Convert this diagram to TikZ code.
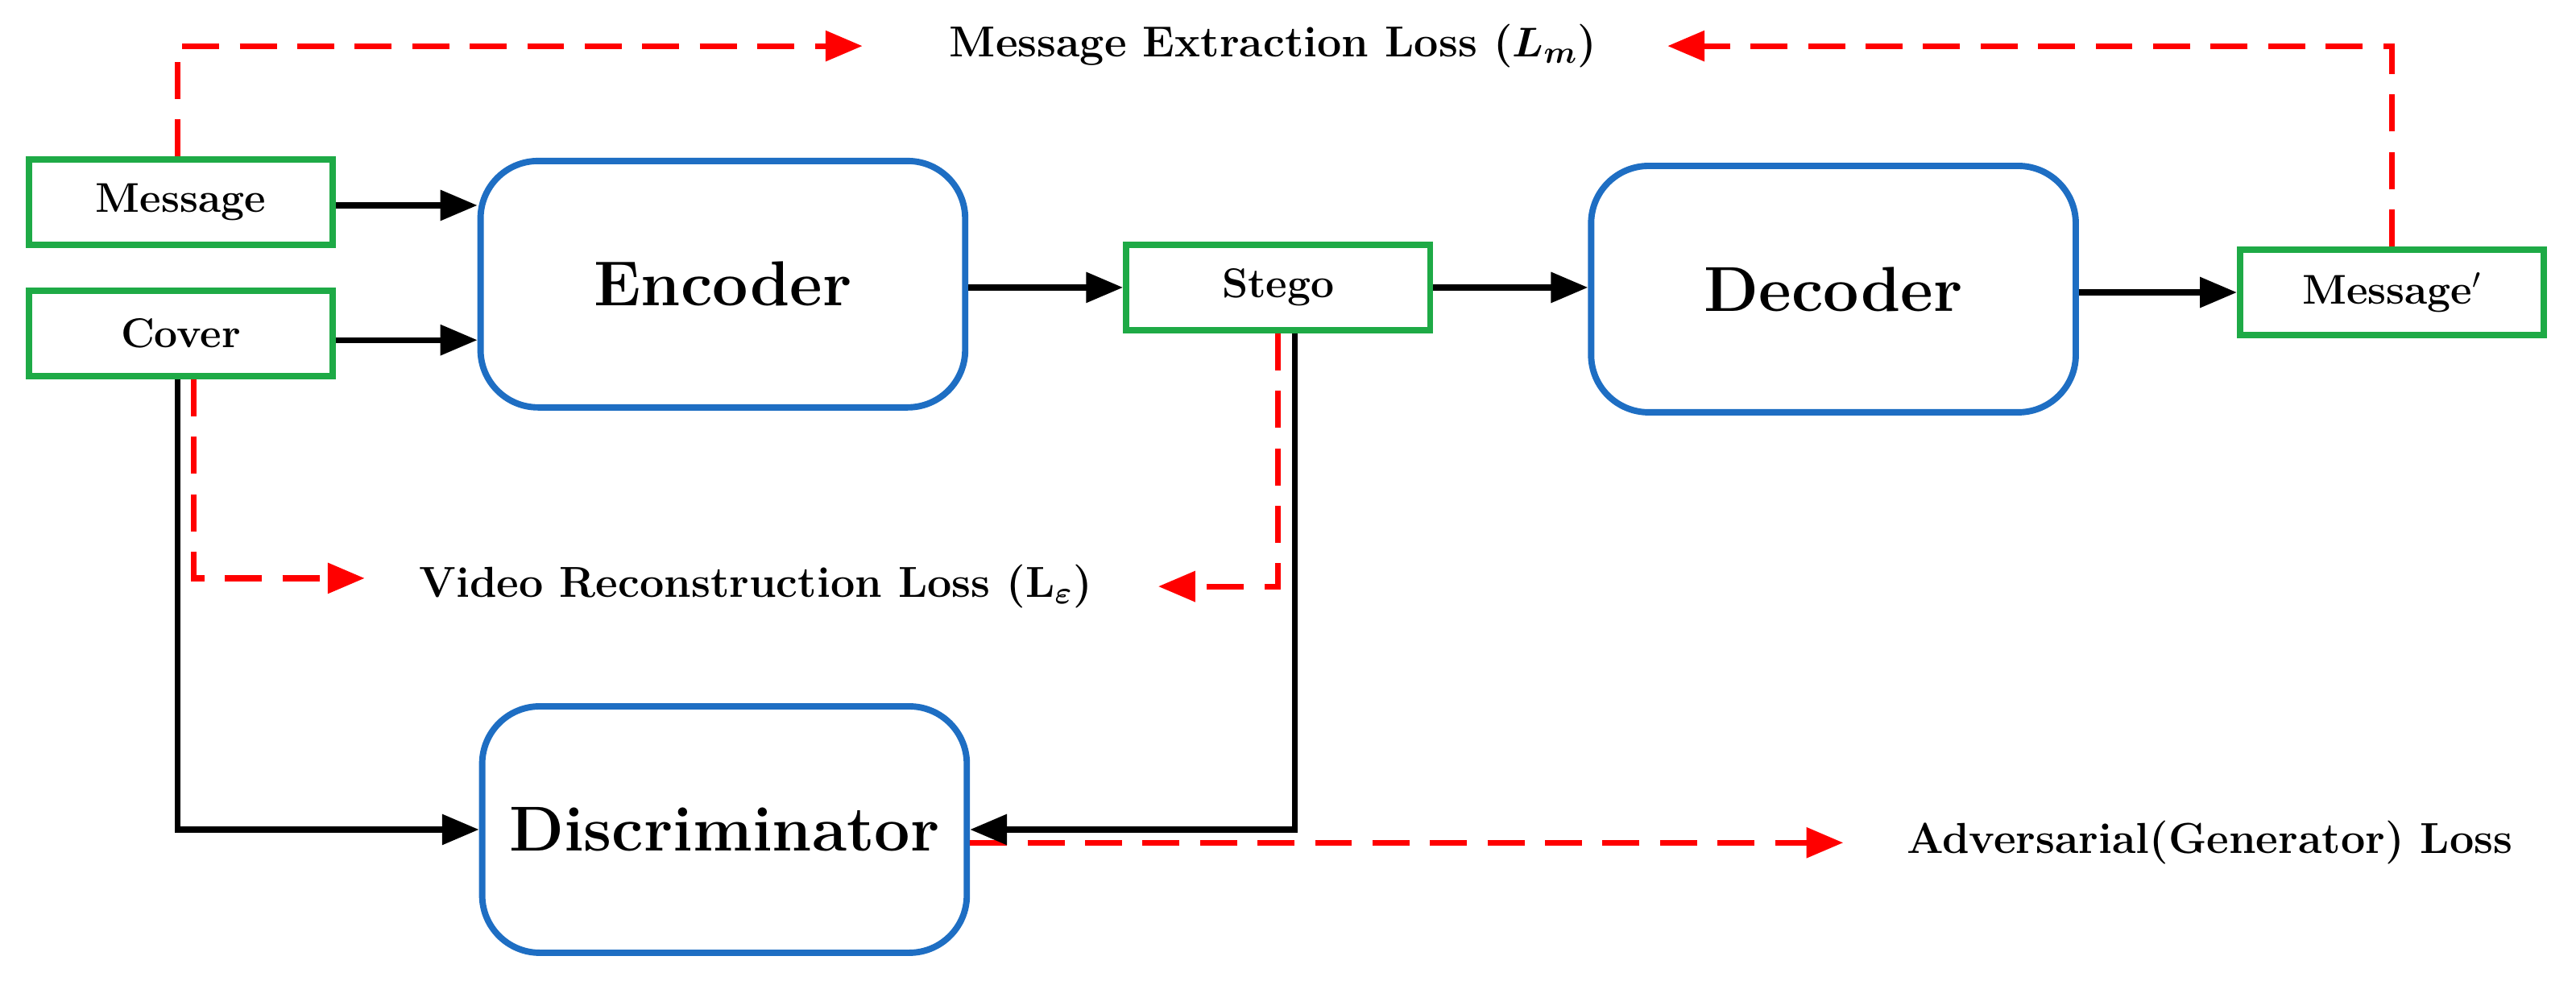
\documentclass[tikz,border=0pt]{standalone}
\usepackage{bm}
\usetikzlibrary{arrows.meta}
\definecolor{boxblue}{RGB}{30,110,195}
\definecolor{boxgreen}{RGB}{30,170,70}
\begin{document}
\begin{tikzpicture}[x=0.2mm, y=-0.2mm,
  io/.style={draw=boxgreen, line width=2.2pt, minimum width=37mm, minimum height=10.4mm, font=\bfseries\Large, inner sep=0pt},
  block/.style={draw=boxblue, line width=2.2pt, rounded corners=7mm, minimum width=59mm, minimum height=30mm, inner sep=0pt, font=\bfseries\fontsize{22}{26}\selectfont},
  loss/.style={font=\bfseries\fontsize{15}{18}\selectfont},
  flow/.style={line width=2pt, -{Triangle[length=4.5mm,width=3.6mm]}},
  lossflow/.style={red, line width=2pt, dashed, dash pattern=on 4.5mm off 2.5mm, -{Triangle[length=4.5mm,width=3.6mm]}},
]
\useasboundingbox (0,0) rectangle (1568,597);

\node[io] (msg) at (110,123) {Message};
\node[io] (cover) at (110,203) {Cover};
\node[block] (enc) at (440,173) {Encoder};
\node[io] (stego) at (778,175) {Stego};
\node[block] (dec) at (1116,176) {Decoder};
\node[io] (msgp) at (1456,178) {Message$'$};
\node[block] (disc) at (441,505) {Discriminator};

\node[loss] (lm) at (775,28) {Message Extraction Loss ($\bm{L_m}$)};
\node[loss] (le) at (460,357) {Video Reconstruction Loss (L$_{\bm\varepsilon}$)};
\node[loss] (la) at (1345,513) {Adversarial(Generator) Loss};

\coordinate (lmL) at (525,28);
\coordinate (lmR) at (1015,28);
\coordinate (leL) at (222,352);
\coordinate (leR) at (705,357);
\coordinate (laE) at (1122,513);

\draw[flow] (msg.east |- 0,125) -- (enc.west |- 0,125);
\draw[flow] (cover.east |- 0,207) -- (enc.west |- 0,207);
\draw[flow] (enc.east |- stego) -- (stego);
\draw[flow] (stego) -- (dec.west |- stego);
\draw[flow] (dec.east |- msgp) -- (msgp);

\draw[lossflow] (msg.north -| 108,0) |- (lmL);
\draw[lossflow] (msgp.north) |- (lmR);
\draw[lossflow] (cover.south -| 118,0) |- (leL);
\draw[lossflow] (stego.south) |- (leR);
\draw[lossflow] (disc.east |- laE) -- (laE);

\draw[flow] (cover.south -| 108,0) |- (disc.west);
\draw[flow] (stego.south -| 788,0) |- (disc.east);

\end{tikzpicture}
\end{document}
